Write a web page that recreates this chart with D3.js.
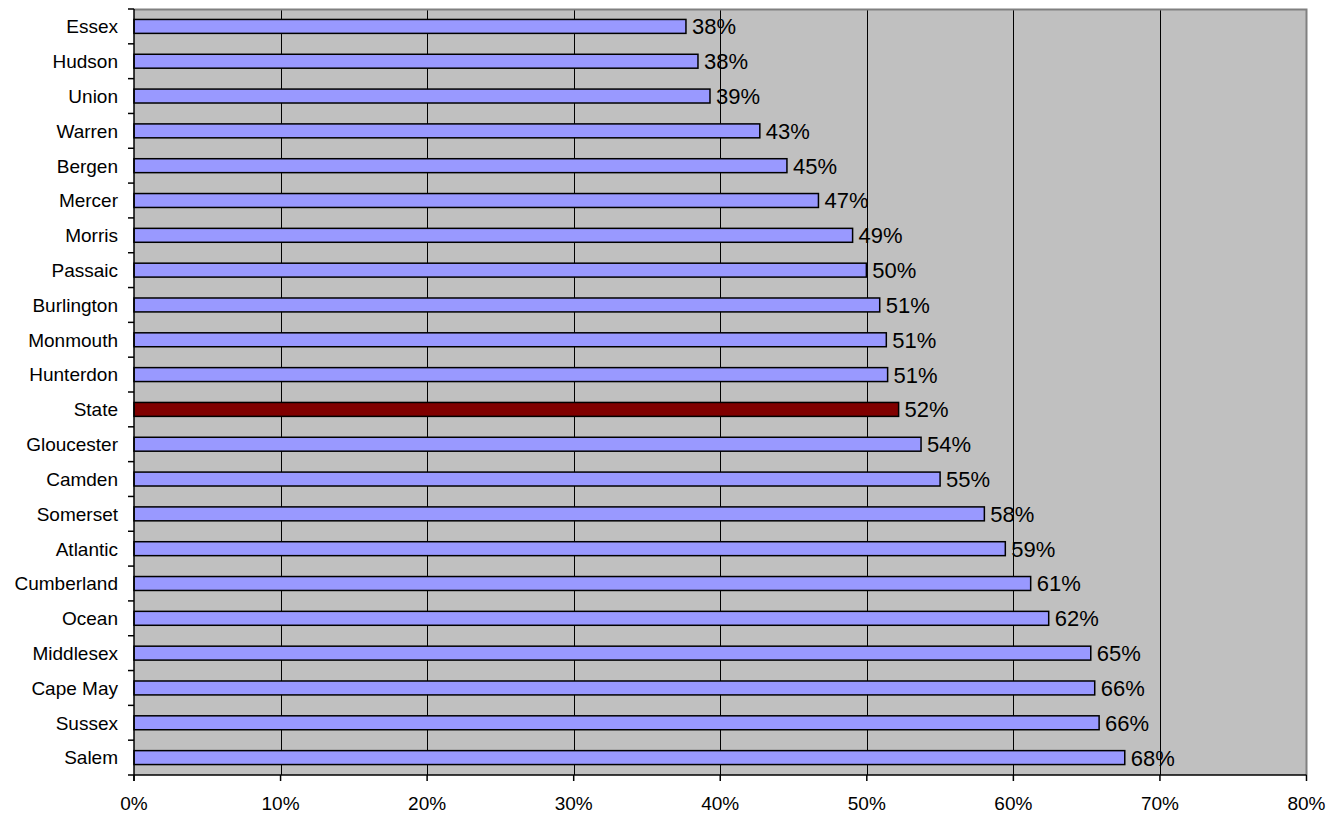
<!DOCTYPE html>
<html>
<head>
<meta charset="utf-8">
<script src="https://cdn.jsdelivr.net/npm/d3@7"></script>
<style>
  html, body { margin: 0; padding: 0; background: #ffffff; }
  svg { display: block; }
  text { font-family: "Liberation Sans", Arial, sans-serif; fill: #000; }
</style>
</head>
<body>
<svg id="chart" width="1341" height="813"></svg>
<script>
// Counties (top to bottom) and their share, in percent
const counties = ["Essex","Hudson","Union","Warren","Bergen","Mercer","Morris","Passaic",
  "Burlington","Monmouth","Hunterdon","State","Gloucester","Camden","Somerset","Atlantic",
  "Cumberland","Ocean","Middlesex","Cape May","Sussex","Salem"];
const shares = [37.66, 38.48, 39.3, 42.7, 44.55, 46.7, 49.03, 49.97,
  50.88, 51.33, 51.42, 52.17, 53.7, 55.0, 58.02, 59.45,
  61.18, 62.41, 65.28, 65.55, 65.85, 67.6];
const highlight = "State";
const xTicks = [0, 10, 20, 30, 40, 50, 60, 70, 80];

const svg = d3.select("#chart");
const plotL = 134, plotR = 1306.5, plotT = 9, plotB = 775;

const x = d3.scaleLinear().domain([0, 80]).range([plotL, plotR]);
const y = d3.scaleBand().domain(counties).range([plotT, plotB]).paddingInner(0.6).paddingOuter(0.3);

// plot background
svg.append("rect").attr("x", plotL).attr("y", plotT)
  .attr("width", plotR - plotL).attr("height", plotB - plotT)
  .attr("fill", "#c0c0c0");

// vertical gridlines
svg.append("g").selectAll("line").data(xTicks.filter(d => d > 0 && d < 80)).join("line")
  .attr("x1", d => Math.round(x(d)) + 0.5).attr("x2", d => Math.round(x(d)) + 0.5)
  .attr("y1", plotT).attr("y2", plotB)
  .attr("stroke", "#000").attr("stroke-width", 1);

// top and right frame
svg.append("path")
  .attr("d", `M${plotL},${plotT + 0.5}H${plotR}V${plotB}`)
  .attr("fill", "none").attr("stroke", "#808080").attr("stroke-width", 2);

// bars
svg.append("g").selectAll("rect").data(counties).join("rect")
  .attr("x", x(0))
  .attr("y", d => y(d))
  .attr("width", (d, i) => x(shares[i]) - x(0))
  .attr("height", y.bandwidth())
  .attr("fill", d => d === highlight ? "#800000" : "#9999ff")
  .attr("stroke", "#000").attr("stroke-width", 1.5);

// value labels
svg.append("g").selectAll("text").data(counties).join("text")
  .attr("x", (d, i) => x(shares[i]) + 6)
  .attr("y", d => y(d) + y.bandwidth() / 2)
  .attr("dy", "0.36em")
  .attr("font-size", 22)
  .text((d, i) => Math.round(shares[i]) + "%");

// category axis
const yAxis = svg.append("g");
yAxis.append("line").attr("x1", plotL).attr("x2", plotL).attr("y1", plotT).attr("y2", plotB + 6)
  .attr("stroke", "#000").attr("stroke-width", 1.5);
yAxis.selectAll("line.tick").data(d3.range(counties.length + 1)).join("line")
  .attr("class", "tick")
  .attr("x1", plotL - 6).attr("x2", plotL)
  .attr("y1", i => plotT + i * (plotB - plotT) / counties.length)
  .attr("y2", i => plotT + i * (plotB - plotT) / counties.length)
  .attr("stroke", "#000").attr("stroke-width", 1.5);
yAxis.selectAll("text").data(counties).join("text")
  .attr("x", 118)
  .attr("y", d => y(d) + y.bandwidth() / 2)
  .attr("dy", "0.36em")
  .attr("text-anchor", "end")
  .attr("font-size", 19)
  .text(d => d);

// value axis
const xAxis = svg.append("g");
xAxis.append("line").attr("x1", plotL).attr("x2", plotR).attr("y1", plotB).attr("y2", plotB)
  .attr("stroke", "#000").attr("stroke-width", 1.5);
xAxis.selectAll("line.tick").data(xTicks).join("line")
  .attr("class", "tick")
  .attr("x1", d => x(d)).attr("x2", d => x(d))
  .attr("y1", plotB).attr("y2", plotB + 6)
  .attr("stroke", "#000").attr("stroke-width", 1.5);
xAxis.selectAll("text").data(xTicks).join("text")
  .attr("x", d => x(d))
  .attr("y", 810)
  .attr("text-anchor", "middle")
  .attr("font-size", 19)
  .text(d => d + "%");
</script>
</body>
</html>
